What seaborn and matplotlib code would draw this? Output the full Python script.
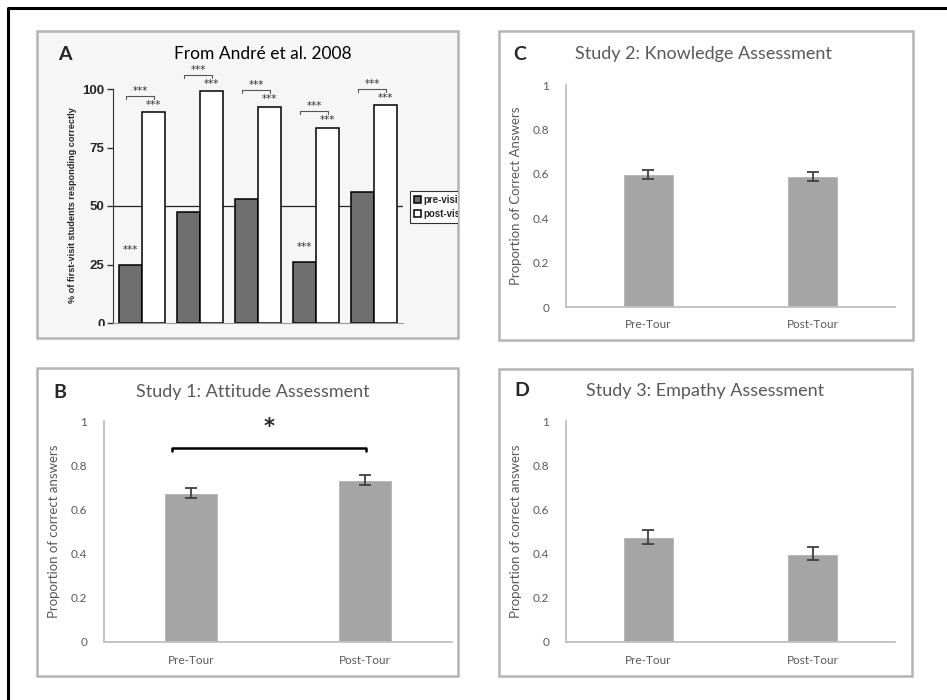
import matplotlib

matplotlib.use("Agg")
import matplotlib.pyplot as plt
import matplotlib.patches as mpatches
import matplotlib.lines as mlines
import pandas as pd
import seaborn as sns

sns.set_style("white")
plt.rcParams["font.family"] = ["Lato", "DejaVu Sans"]

# --------------------------------------------------------------------------- #
# Data
# --------------------------------------------------------------------------- #
# Panel A (André et al. 2008): five items, pre- vs post-visit percentages
a_items = ["1", "2", "3", "4", "5"]
a_pre = [25, 47.5, 53, 26, 56]
a_post = [90, 99, 92.5, 83.5, 93]
a_pre_sig = [True, False, False, True, False]
a_legend = ["pre-visit", "post-visit"]
a_yticks = [0, 25, 50, 75, 100]

tour_labels = ["Pre-Tour", "Post-Tour"]
prop_ticks = [0, 0.2, 0.4, 0.6, 0.8, 1]
prop_ticklabels = ["0", "0.2", "0.4", "0.6", "0.8", "1"]

# Panel B: attitude
b_mean = [0.674, 0.732]
b_err = [0.022, 0.022]
# Panel C: knowledge
c_mean = [0.597, 0.588]
c_err = [0.020, 0.022]
# Panel D: empathy
d_mean = [0.475, 0.400]
d_err = [0.030, 0.031]

W, H = 947, 700
BAR_GREY = "#a5a5a5"
TEXT_GREY = "#595959"
AXIS_GREY = "#bfbfbf"
BOX_GREY = "#b4b4b4"

fig = plt.figure(figsize=(W / 100, H / 100), dpi=100)


def px_axes(left, top, right, bottom):
    """Axes placed by pixel edges (origin top-left)."""
    return fig.add_axes([left / W, 1 - bottom / H, (right - left) / W, (bottom - top) / H])


def px_rect(left, top, right, bottom, **kw):
    return mpatches.Rectangle((left / W, 1 - bottom / H), (right - left) / W, (bottom - top) / H,
                              transform=fig.transFigure, **kw)


def panel_box(left, top, right, bottom, face="white"):
    rect = px_rect(left, top, right, bottom, facecolor=face, edgecolor=BOX_GREY,
                   linewidth=1.8, zorder=-5)
    fig.patches.append(rect)
    return rect


def fig_text(x, y, s, **kw):
    fig.text(x / W, 1 - y / H, s, **kw)


# outer frame (top and left edges only are visible)
fig.lines.append(mlines.Line2D([8 / W, 8 / W, 1], [0, 1 - 8 / H, 1 - 8 / H],
                               transform=fig.transFigure, color="black", linewidth=2.2))

# --------------------------------------------------------------------------- #
# Panel A
# --------------------------------------------------------------------------- #
box_a = panel_box(37, 31, 458, 338, face="#f6f6f6")
scan_a = px_rect(37, 31, 458, 326)   # the reproduced scan is cut just below the axis
ax = px_axes(113, 65.6, 403, 323)
ax.patch.set_alpha(0)
df_a = pd.DataFrame({
    "item": a_items * 2,
    "pct": a_pre + a_post,
    "visit": [a_legend[0]] * len(a_items) + [a_legend[1]] * len(a_items),
})
sns.barplot(data=df_a, x="item", y="pct", hue="visit", palette=["#6e6e6e", "white"],
            saturation=1, edgecolor="black", linewidth=1.1, width=0.81, errorbar=None, ax=ax)
ax.set_xlim(-0.5, 4.5)
ax.set_ylim(0, 110)
ax.axhline(50, color="#222222", linewidth=0.9, xmin=0, xmax=1, zorder=0.5)
ax.set_yticks(a_yticks)
ax.set_yticklabels([str(t) for t in a_yticks], fontsize=9.5, fontweight="bold",
                   family="Liberation Sans")
ax.tick_params(axis="y", length=4, width=1, pad=2, direction="out", color="#333333", left=True)
ax.tick_params(axis="x", length=0, labelbottom=False)
ax.set_xlabel("")
ax.set_ylabel("% of first-visit students responding correctly", fontsize=6.6,
              fontweight="bold", family="Liberation Sans")
ax.yaxis.set_label_coords(-0.125, 0.46)
for side in ("top", "right"):
    ax.spines[side].set_visible(False)
ax.spines["left"].set_bounds(0, 100)
ax.spines["left"].set_color("#333333")
ax.spines["bottom"].set_color("#999999")
for lbl in ax.get_yticklabels():
    lbl.set_clip_path(scan_a)

star_kw = dict(ha="center", va="center", fontsize=7.5, color="#333333", family="DejaVu Sans")
for i, (pre, post, pre_sig) in enumerate(zip(a_pre, a_post, a_pre_sig)):
    x_pre, x_post = i - 0.2025, i + 0.2025
    yb = post + 7
    ax.plot([i - 0.27, i - 0.27, x_post, x_post], [yb - 1.3, yb, yb, yb - 1.3],
            color="#555555", linewidth=0.8, clip_on=False)
    ax.text((i - 0.27 + x_post) / 2, yb + 2.3, "***", **star_kw)
    ax.text(x_post, post + 3.3, "***", **star_kw)
    if pre_sig:
        ax.text(x_pre, pre + 6.3, "***", **star_kw)

handles, _ = ax.get_legend_handles_labels()
leg = ax.legend(handles, a_legend, loc="upper left", bbox_to_anchor=(410 / W, 1 - 191 / H),
                bbox_transform=fig.transFigure, frameon=True, fancybox=False,
                prop={"family": "Liberation Sans", "weight": "bold", "size": 7},
                handlelength=0.7, handleheight=0.7, handletextpad=0.3, borderpad=0.4,
                labelspacing=0.4, borderaxespad=0)
leg.get_frame().set_edgecolor("black")
leg.get_frame().set_linewidth(0.8)
leg.get_frame().set_clip_path(box_a)
for t in leg.get_texts():
    t.set_clip_path(box_a)

fig_text(65, 54, "A", ha="center", va="center", fontsize=14, fontweight="bold")
fig_text(263, 54, "From André et al. 2008", ha="center", va="center", fontsize=12.5,
         color="black")


# --------------------------------------------------------------------------- #
# Panels B, C, D (Excel-style bar charts)
# --------------------------------------------------------------------------- #
def tour_panel(box, axes_px, means, errs, letter, letter_xy, title, title_xy, ylabel):
    panel_box(*box)
    ax = px_axes(*axes_px)
    sns.barplot(x=tour_labels, y=means, color=BAR_GREY, saturation=1, width=0.31,
                errorbar=None, ax=ax)
    ax.errorbar(x=[0, 1], y=means, yerr=errs, fmt="none", ecolor="#404040",
                elinewidth=1.3, capsize=4, capthick=1.3)
    ax.set_xlim(-0.5, 1.5)
    ax.set_ylim(0, 1)
    ax.set_yticks(prop_ticks)
    ax.set_yticklabels(prop_ticklabels)
    ax.tick_params(length=0, labelsize=8.5, labelcolor=TEXT_GREY)
    ax.tick_params(axis="y", pad=12)
    ax.tick_params(axis="x", pad=9)
    ax.set_ylabel(ylabel, fontsize=9.5, color=TEXT_GREY, labelpad=8)
    ax.set_xlabel("")
    for side in ("top", "right"):
        ax.spines[side].set_visible(False)
    for side in ("left", "bottom"):
        ax.spines[side].set_color(AXIS_GREY)
        ax.spines[side].set_linewidth(1.3)
    ax.patch.set_alpha(0)
    fig_text(*letter_xy, letter, ha="center", va="center", fontsize=14, fontweight="bold")
    fig_text(*title_xy, title, ha="center", va="center", fontsize=13, color=TEXT_GREY)
    return ax


ax_b = tour_panel((37, 368, 458, 676), (104, 421, 452, 642), b_mean, b_err,
                  "B", (60, 392), "Study 1: Attitude Assessment", (253, 392),
                  "Proportion of correct answers")
ax_b.plot([-0.11, -0.11, 1.006, 1.006], [0.863, 0.878, 0.878, 0.863], color="black",
          linewidth=1.8, clip_on=False)
ax_b.text(0.45, 0.975, "*", ha="center", va="center", fontsize=15, fontweight="bold",
          family="DejaVu Sans")

tour_panel((499, 31, 913, 340), (566, 85, 895, 307), c_mean, c_err,
           "C", (520, 54), "Study 2: Knowledge Assessment", (703, 54),
           "Proportion of Correct Answers")

tour_panel((499, 369, 912, 676), (566, 421, 895, 642), d_mean, d_err,
           "D", (522, 391), "Study 3: Empathy Assessment", (705, 391),
           "Proportion of correct answers")

fig.savefig("out.png", dpi=100)
plt.close(fig)
